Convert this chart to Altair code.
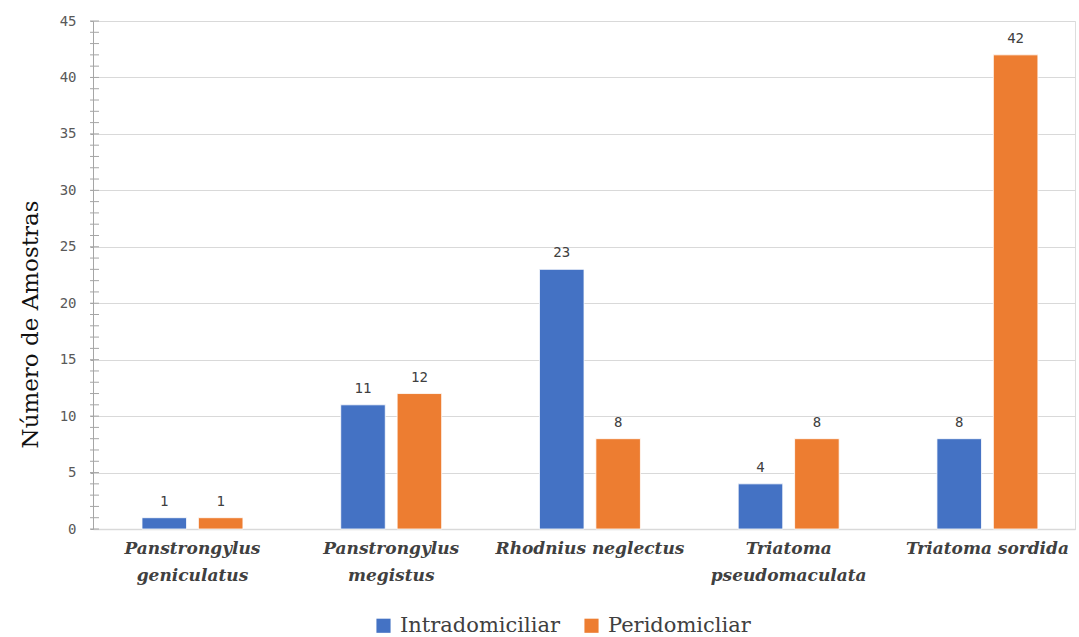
import altair as alt
import pandas as pd

categories = ["Panstrongylus geniculatus", "Panstrongylus megistus", "Rhodnius neglectus",
              "Triatoma pseudomaculata", "Triatoma sordida"]
label_lines = {
    "Panstrongylus geniculatus": ["Panstrongylus", "geniculatus"],
    "Panstrongylus megistus": ["Panstrongylus", "megistus"],
    "Rhodnius neglectus": ["Rhodnius neglectus"],
    "Triatoma pseudomaculata": ["Triatoma", "pseudomaculata"],
    "Triatoma sordida": ["Triatoma sordida"],
}
series = ["Intradomiciliar", "Peridomicliar"]
intra = [1, 11, 23, 4, 8]
peri = [1, 12, 8, 8, 42]
colors = ["#4472C4", "#ED7D31"]
y_ticks = list(range(0, 46))

rows = []
for c, a, b in zip(categories, intra, peri):
    rows.append({"cat": c, "serie": series[0], "val": a})
    rows.append({"cat": c, "serie": series[1], "val": b})
df = pd.DataFrame(rows)
ticks_df = pd.DataFrame({"t": y_ticks})

label_expr = "{" + ",".join(
    "'%s': [%s]" % (k, ",".join("'%s'" % s for s in v)) for k, v in label_lines.items()
) + "}[datum.label]"

y_scale = alt.Scale(domain=[0, 45], nice=False)

x_enc = alt.X("cat:N", sort=categories,
              scale=alt.Scale(paddingInner=0.492, paddingOuter=0.2166, align=0.569),
              axis=alt.Axis(title=None, labelAngle=0, labelExpr=label_expr,
                            labelFont="DejaVu Serif", labelFontStyle="italic",
                            labelFontWeight="bold", labelFontSize=17,
                            labelColor="#404040", labelLineHeight=27,
                            labelPadding=11, labelBaseline="top", labelLimit=0,
                            ticks=False, domainColor="#d9d9d9", domainWidth=1.5))
xo_enc = alt.XOffset("serie:N", sort=series, scale=alt.Scale(paddingInner=0.21, paddingOuter=0))

base = alt.Chart(df)

bars = base.mark_bar(stroke="#ffffff", strokeWidth=0.8).encode(
    x=x_enc,
    xOffset=xo_enc,
    y=alt.Y("val:Q", scale=y_scale,
            axis=alt.Axis(title="Número de Amostras", values=list(range(0, 46, 5)),
                          titleFont="DejaVu Serif", titleFontWeight="normal",
                          titleFontSize=23, titleColor="#111111", titlePadding=17,
                          titleY=303,
                          labelFont="DejaVu Sans Mono", labelFontSize=14,
                          labelColor="#595959", labelPadding=14,
                          tickSize=3, tickColor="#a6a6a6",
                          domainColor="#a6a6a6", gridColor="#d9d9d9", gridWidth=1.2)),
    color=alt.Color("serie:N", sort=series, title=None,
                    scale=alt.Scale(domain=series, range=colors),
                    legend=alt.Legend(orient="none", legendX=280, legendY=594,
                                      direction="horizontal", symbolType="square",
                                      symbolSize=200, symbolStrokeWidth=0,
                                      labelFont="DejaVu Serif", labelFontSize=21,
                                      labelColor="#404040", labelOffset=6,
                                      labelLimit=400,
                                      columnPadding=20, padding=0)),
)

texts = base.mark_text(font="DejaVu Sans Mono", fontSize=14, color="#404040",
                       baseline="alphabetic", dy=-12).encode(
    x=alt.X("cat:N", sort=categories),
    xOffset=alt.XOffset("serie:N", sort=series),
    y=alt.Y("val:Q", scale=y_scale),
    text=alt.Text("val:Q"),
)

minor = alt.Chart(ticks_df).mark_rule(color="#a6a6a6", strokeWidth=1).encode(
    y=alt.Y("t:Q", scale=y_scale),
    x=alt.value(-3),
    x2=alt.value(6),
)

chart = alt.layer(bars, texts, minor).properties(
    width=982, height=508,
    autosize=alt.AutoSizeParams(type="none"),
    padding={"left": 93, "top": 21, "right": 4, "bottom": 108},
).configure_view(stroke=None).configure(background="#ffffff")

chart.save("out.html", embed_options={"renderer": "svg", "actions": False})
